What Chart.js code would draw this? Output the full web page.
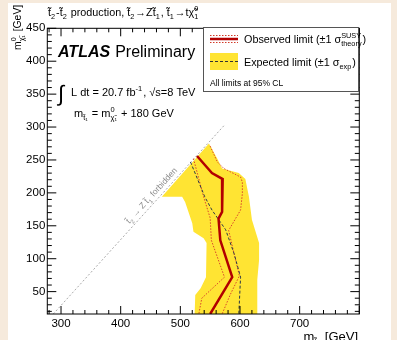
<!DOCTYPE html>
<html>
<head>
<meta charset="utf-8">
<script src="https://cdn.jsdelivr.net/npm/chart.js@4/dist/chart.umd.min.js"></script>
<style>
  html, body { margin: 0; padding: 0; background: #f6eadc; }
  canvas { display: block; }
</style>
</head>
<body>
<canvas id="c" width="397" height="340"></canvas>
<script>
// axis ticks
const xTickValues = [300, 400, 500, 600, 700];
const yTickValues = [50, 100, 150, 200, 250, 300, 350, 400, 450];

// expected limit +-1 sigma band (closed outline)
const bandX = [548, 469, 503, 508, 520, 522, 539, 544, 543, 534, 525, 524, 629, 629, 632, 632, 620, 615, 609, 598, 570, 562, 548];
const bandY = [275, 194, 194, 186, 154, 141, 131, 124, 72, 55, 45, 16, 16, 68, 98, 124, 159, 194, 221, 230, 237, 252, 275];

// expected limit
const expX = [517, 541, 553, 576, 590, 601, 598];
const expY = [247, 194, 174, 144, 108, 72, 16];

// observed limit
const obsX = [528, 553, 571, 570, 564, 567, 587, 550];
const obsY = [256, 230, 221, 171, 161, 128, 72, 16];

// observed +-1 sigma theory
const thDnX = [522, 539, 550, 552, 574, 536, 531];
const thDnY = [252, 194, 162, 128, 72, 40, 16];
const thUpX = [550, 562, 573, 601, 604, 604, 601, 581, 590, 599, 584, 570];
const thUpY = [271, 247, 237, 224, 216, 199, 174, 143, 108, 74, 46, 16];

// kinematic limit t2 -> Z t1
const diagX = [287, 575];
const diagY = [16, 304];

const pts = (xs, ys) => xs.map((x, i) => ({ x: x, y: ys[i] }));

const FONT = '"Liberation Sans", Arial, sans-serif';
const YELLOW = '#ffe433';
const RED = '#b20000';

// text with sub / superscripts
function drawRich(ctx, x, y, parts, size, align) {
  const small = size * 0.68;
  const items = parts.map(p => typeof p === 'string' ? { t: p } : p);
  let w = 0;
  items.forEach(it => {
    if (it.t !== undefined) {
      ctx.font = (it.font || '') + ' ' + size + 'px ' + FONT;
      it.w = ctx.measureText(it.t).width;
    } else {
      ctx.font = small + 'px ' + FONT;
      it.w = Math.max(it.sup ? ctx.measureText(it.sup).width : 0, it.sub ? ctx.measureText(it.sub).width : 0) + 1;
    }
    w += it.w;
  });
  if (align === 'right') x -= w;
  if (align === 'center') x -= w / 2;
  items.forEach(it => {
    if (it.t !== undefined) {
      ctx.font = (it.font || '') + ' ' + size + 'px ' + FONT;
      ctx.fillText(it.t, x, y);
    } else {
      ctx.font = small + 'px ' + FONT;
      if (it.sup) ctx.fillText(it.sup, x, y - size * 0.42);
      if (it.sub) ctx.fillText(it.sub, x, y + size * 0.3);
    }
    x += it.w;
  });
  return w;
}

const decor = {
  id: 'decor',
  beforeDraw(chart) {
    const ctx = chart.ctx;
    ctx.save();
    ctx.fillStyle = '#f6eadc';
    ctx.fillRect(0, 0, chart.width, chart.height);
    ctx.fillStyle = '#ffffff';
    ctx.fillRect(8, 3, 383, 337);
    ctx.restore();
  },
  afterDatasetsDraw(chart) {
    const ctx = chart.ctx;
    const a = chart.chartArea;
    const xs = chart.scales.x, ys = chart.scales.y;
    ctx.save();
    ctx.strokeStyle = '#000';
    ctx.lineWidth = 1;
    ctx.strokeRect(a.left, a.top, a.right - a.left, a.bottom - a.top);
    ctx.beginPath();
    for (let v = 280; v <= 800; v += 20) {
      const px = xs.getPixelForValue(v);
      if (px < a.left || px > a.right) continue;
      const len = v % 100 === 0 ? 8 : 4;
      ctx.moveTo(px, a.bottom); ctx.lineTo(px, a.bottom - len);
      ctx.moveTo(px, a.top); ctx.lineTo(px, a.top + len);
    }
    for (let v = 20; v <= 450; v += 10) {
      const py = ys.getPixelForValue(v);
      const len = v % 50 === 0 ? 9 : 4.5;
      ctx.moveTo(a.left, py); ctx.lineTo(a.left + len, py);
      ctx.moveTo(a.right, py); ctx.lineTo(a.right - len, py);
    }
    ctx.stroke();

    // forbidden label along the diagonal
    const x0 = xs.getPixelForValue(diagX[0]), y0 = ys.getPixelForValue(diagY[0]);
    const x1 = xs.getPixelForValue(diagX[1]), y1 = ys.getPixelForValue(diagY[1]);
    const ang = Math.atan2(y1 - y0, x1 - x0);
    const mx = xs.getPixelForValue(460), my = ys.getPixelForValue(189);
    ctx.translate(mx, my);
    ctx.rotate(ang);
    ctx.fillStyle = '#8a8a8a';
    ctx.textBaseline = 'alphabetic';
    drawRich(ctx, 0, -4, ['t\u0303', { sub: '2' }, ' \u2192 Z t\u0303', { sub: '1' }, ' forbidden'], 8.5, 'center');
    ctx.restore();

    // texts
    ctx.save();
    ctx.fillStyle = '#000';
    ctx.textBaseline = 'alphabetic';
    drawRich(ctx, 48, 16, ['t\u0303', { sub: '2' }, '-t\u0303', { sub: '2' }, ' production, t\u0303', { sub: '2' },
      '\u2192Zt\u0303', { sub: '1' }, ', t\u0303', { sub: '1' }, '\u2192t\u03c7\u0303', { sup: '0', sub: '1' }], 10.8);

    const wa = drawRich(ctx, 58, 57, [{ t: 'ATLAS', font: 'bold italic' }], 16);
    drawRich(ctx, 58 + wa + 5, 57, ['Preliminary'], 16);

    ctx.font = '22px ' + FONT;
    ctx.fillText('\u222b', 58, 101);
    drawRich(ctx, 71, 96, ['L dt = 20.7 fb', { sup: '-1' }, ', \u221as=8 TeV'], 11);
    drawRich(ctx, 74, 117, ['m', { sub: 't\u0303\u2081' }, ' = m', { sup: '0', sub: '\u03c7\u0303\u2081' }, ' + 180 GeV'], 11);

    // axis titles
    drawRich(ctx, 358, 341, ['m', { sub: 't\u0303\u2082' }, ' [GeV]'], 13, 'right');
    ctx.beginPath();
    ctx.rect(0, 3, 60, 100);
    ctx.clip();
    ctx.translate(20.5, 50);
    ctx.rotate(-Math.PI / 2);
    drawRich(ctx, 0, 0, ['m', { sup: '0', sub: '\u03c7\u0303\u2081' }, ' [GeV]'], 10.4);
    ctx.restore();

    // legend
    ctx.save();
    ctx.fillStyle = '#fff';
    ctx.fillRect(203, 27, 155, 64);
    ctx.strokeStyle = '#555';
    ctx.lineWidth = 1;
    ctx.strokeRect(203.5, 27.5, 155, 64);
    ctx.lineWidth = 1;
    ctx.strokeStyle = '#d23a28';
    ctx.setLineDash([1.5, 1.5]);
    ctx.beginPath();
    ctx.moveTo(210, 35.5); ctx.lineTo(238, 35.5);
    ctx.moveTo(210, 42.5); ctx.lineTo(238, 42.5);
    ctx.stroke();
    ctx.setLineDash([]);
    ctx.strokeStyle = RED;
    ctx.lineWidth = 2.5;
    ctx.beginPath(); ctx.moveTo(210, 39); ctx.lineTo(238, 39); ctx.stroke();
    ctx.fillStyle = YELLOW;
    ctx.fillRect(210, 53, 28, 17);
    ctx.strokeStyle = '#333';
    ctx.lineWidth = 1;
    ctx.setLineDash([3, 2]);
    ctx.beginPath(); ctx.moveTo(210, 61.5); ctx.lineTo(238, 61.5); ctx.stroke();
    ctx.setLineDash([]);
    ctx.fillStyle = '#000';
    drawRich(ctx, 244, 43, ['Observed limit (\u00b11 \u03c3', { sup: 'SUSY', sub: 'theory' }, ')'], 10.8);
    drawRich(ctx, 244, 66, ['Expected limit (\u00b11 \u03c3', { sub: 'exp' }, ')'], 10.8);
    drawRich(ctx, 210, 86, ['All limits at 95% CL'], 8.5);
    ctx.restore();
  }
};

new Chart(document.getElementById('c'), {
  type: 'scatter',
  data: {
    datasets: [
      { data: pts(obsX, obsY), showLine: true, borderColor: RED, borderWidth: 2.5, pointRadius: 0, order: 1 },
      { data: pts(expX, expY), showLine: true, borderColor: '#2e3a48', borderWidth: 1, borderDash: [3, 2], pointRadius: 0, order: 2 },
      { data: pts(thDnX, thDnY), showLine: true, borderColor: '#d8452c', borderWidth: 1, borderDash: [1.5, 1.5], pointRadius: 0, order: 3 },
      { data: pts(thUpX, thUpY), showLine: true, borderColor: '#d8452c', borderWidth: 1, borderDash: [1.5, 1.5], pointRadius: 0, order: 3 },
      { data: pts(bandX, bandY), showLine: true, borderColor: YELLOW, borderWidth: 0, backgroundColor: YELLOW, fill: 'shape', pointRadius: 0, order: 5 },
      { data: pts(diagX, diagY), showLine: true, borderColor: '#aaaaaa', borderWidth: 1, borderDash: [2, 2], pointRadius: 0, order: 6 }
    ]
  },
  options: {
    responsive: false,
    animation: false,
    layout: { padding: { left: 0, top: 28.3, right: 37.7, bottom: 0 } },
    scales: {
      x: {
        type: 'linear', min: 277, max: 800,
        grid: { display: false, drawTicks: false },
        border: { display: false },
        ticks: { color: '#000', padding: 3, font: { family: FONT, size: 11.5 }, maxRotation: 0 },
        afterBuildTicks: s => { s.ticks = xTickValues.map(v => ({ value: v })); },
        afterFit: s => { s.height = 26; }
      },
      y: {
        type: 'linear', min: 16, max: 450,
        grid: { display: false, drawTicks: false },
        border: { display: false },
        ticks: { color: '#000', padding: 2, font: { family: FONT, size: 11.5 } },
        afterBuildTicks: s => { s.ticks = yTickValues.map(v => ({ value: v })); },
        afterFit: s => { s.width = 47.3; }
      }
    },
    plugins: { legend: { display: false }, tooltip: { enabled: false } }
  },
  plugins: [decor]
});
</script>
</body>
</html>
